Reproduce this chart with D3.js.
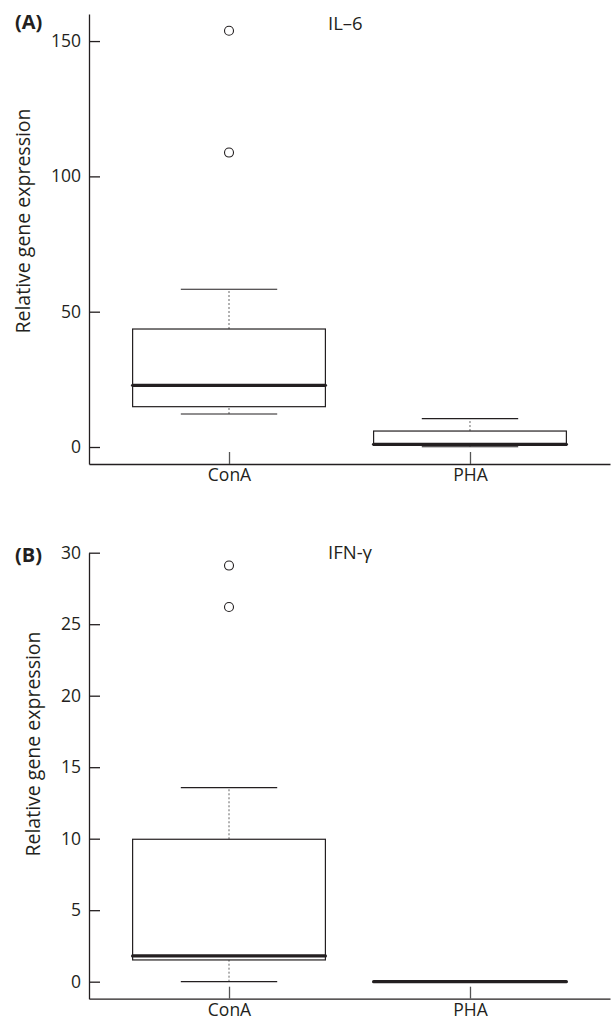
<!DOCTYPE html>
<html>
<head>
<meta charset="utf-8">
<script src="https://cdn.jsdelivr.net/npm/d3@7"></script>
<style>
  body { margin: 0; background: #fff; }
  text { font-family: "Open Sans", "Noto Sans", sans-serif; fill: #231f20; }
</style>
</head>
<body>
<script>
// data
var groups = ["ConA", "PHA"];

// IL-6 : [lower whisker, Q1, median, Q3, upper whisker]
var il6Stats = [[12.2, 14.9, 22.8, 43.6, 58.3], [0.1, 0.6, 1.0, 5.9, 10.5]];
var il6Outliers = [[153.8, 108.8], []];
var il6Ticks = [0, 50, 100, 150];

// IFN-y
var ifnStats = [[0, 1.52, 1.8, 9.96, 13.57], [0, 0, 0, 0, 0]];
var ifnOutliers = [[29.1, 26.2], []];
var ifnTicks = [0, 5, 10, 15, 20, 25, 30];

var svg = d3.select("body").append("svg").attr("width", 611).attr("height", 1022);

// draws one panel
var drawPanel = function(opts) {
    var g = svg.append("g");
    var y = d3.scaleLinear().domain(opts.domain).range([opts.bottom, opts.top]);
    var x = d3.scalePoint().domain(groups).range([89, 610]).padding(0.581);
    var step = x.step();
    var bw = step * 0.8;

    // y axis
    var ya = g.append("g").attr("transform", "translate(89,0)")
        .call(d3.axisLeft(y).tickValues(opts.ticks).tickSizeInner(-11).tickSizeOuter(0).tickPadding(8));
    ya.selectAll("text").style("font-size", "17.5px").attr("fill", "#231f20");
    ya.selectAll("line, path").attr("stroke", "#231f20").attr("stroke-width", 1.3);

    // x axis
    var xa = g.append("g").attr("transform", "translate(0," + opts.bottom + ")")
        .call(d3.axisBottom(x).tickSizeInner(-12).tickSizeOuter(0).tickPadding(5));
    xa.selectAll("text").style("font-size", "17.5px").attr("fill", "#231f20");
    xa.selectAll("path").attr("stroke", "#231f20").attr("stroke-width", 1.3);
    xa.selectAll("line").attr("stroke", "#555").attr("stroke-width", 1.3);

    // boxes
    var box = g.selectAll(".box").data(opts.stats).enter().append("g");
    // whiskers (dotted)
    box.append("line")
        .attr("x1", function(d, i) { return x(groups[i]); })
        .attr("x2", function(d, i) { return x(groups[i]); })
        .attr("y1", function(d) { return y(d[3]); })
        .attr("y2", function(d) { return y(d[4]); })
        .attr("stroke", "#666").attr("stroke-dasharray", "2,2");
    box.append("line")
        .attr("x1", function(d, i) { return x(groups[i]); })
        .attr("x2", function(d, i) { return x(groups[i]); })
        .attr("y1", function(d) { return y(d[0]); })
        .attr("y2", function(d) { return y(d[1]); })
        .attr("stroke", "#666").attr("stroke-dasharray", "2,2");
    // caps
    [0, 4].forEach(function(k) {
        box.append("line")
            .attr("x1", function(d, i) { return x(groups[i]) - bw / 4; })
            .attr("x2", function(d, i) { return x(groups[i]) + bw / 4; })
            .attr("y1", function(d) { return y(d[k]); })
            .attr("y2", function(d) { return y(d[k]); })
            .attr("stroke", "#231f20").attr("stroke-width", 1.2);
    });
    box.append("rect")
        .attr("x", function(d, i) { return x(groups[i]) - bw / 2; })
        .attr("y", function(d) { return y(d[3]); })
        .attr("width", bw)
        .attr("height", function(d) { return y(d[1]) - y(d[3]); })
        .attr("fill", "white").attr("stroke", "#231f20").attr("stroke-width", 1.2);
    box.append("line")
        .attr("x1", function(d, i) { return x(groups[i]) - bw / 2; })
        .attr("x2", function(d, i) { return x(groups[i]) + bw / 2; })
        .attr("y1", function(d) { return y(d[2]); })
        .attr("y2", function(d) { return y(d[2]); })
        .attr("stroke", "#231f20").attr("stroke-width", 3.2).attr("stroke-linecap", "round");

    // outliers
    opts.outliers.forEach(function(arr, i) {
        g.selectAll(null).data(arr).enter().append("circle")
            .attr("cx", x(groups[i]))
            .attr("cy", function(d) { return y(d); })
            .attr("r", 4.5)
            .attr("fill", "white").attr("stroke", "#231f20").attr("stroke-width", 1.1);
    });

    // titles
    g.append("text").attr("x", 328).attr("y", opts.top + opts.titleDy)
        .style("font-size", "18.5px").text(opts.title);
    g.append("text").attr("x", 15).attr("y", opts.labelY)
        .style("font-size", "20px").style("font-weight", "bold").text(opts.label);
    g.append("text")
        .attr("transform", "translate(" + opts.ylabX + "," + opts.ylabY + ") rotate(-90)")
        .attr("text-anchor", "middle")
        .style("font-size", "19.5px").text("Relative gene expression");
};

drawPanel({ stats: il6Stats, outliers: il6Outliers, ticks: il6Ticks,
    domain: [-6.28, 160], bottom: 464, top: 14, title: "IL\u20136", titleDy: 16,
    label: "(A)", labelY: 29, ylabX: 30, ylabY: 221 });

drawPanel({ stats: ifnStats, outliers: ifnOutliers, ticks: ifnTicks,
    domain: [-1.19, 30], bottom: 998.7, top: 552.7, title: "IFN-\u03b3", titleDy: 6,
    label: "(B)", labelY: 562, ylabX: 40, ylabY: 744 });
</script>
</body>
</html>
